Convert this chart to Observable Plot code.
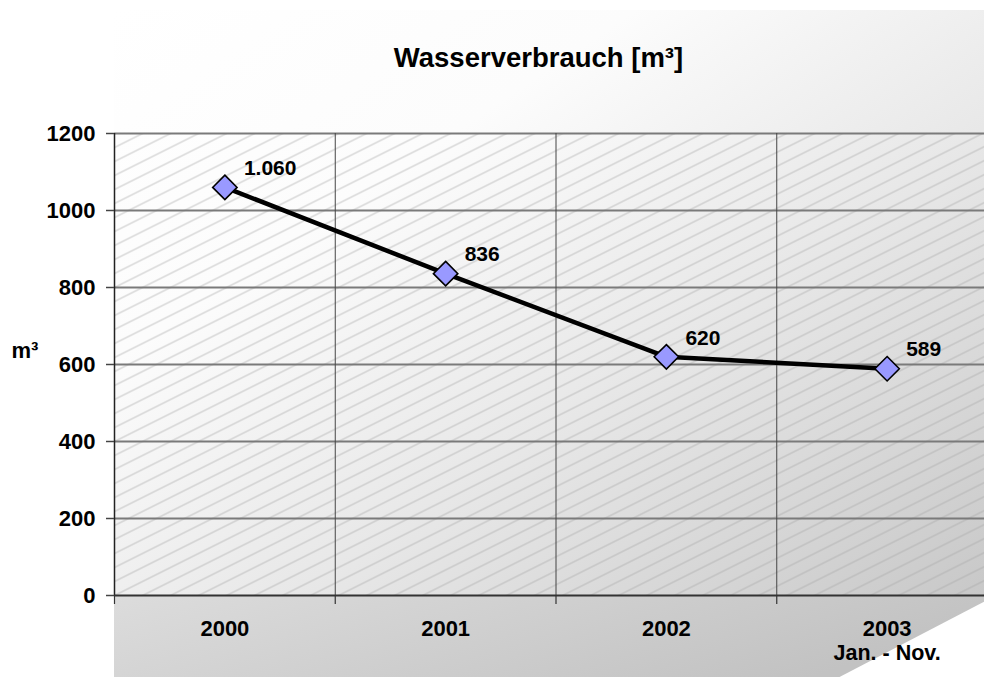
<!DOCTYPE html>
<html>
<head>
<meta charset="utf-8">
<script src="https://cdn.jsdelivr.net/npm/d3@7"></script>
<script src="https://cdn.jsdelivr.net/npm/@observablehq/plot@0.6"></script>
<style>
  html, body { margin: 0; padding: 0; background: #ffffff; overflow: hidden; }
  #chart { width: 984px; height: 677px; }
</style>
</head>
<body>
<div id="chart"></div>
<script>
// ---- data ----
const years = ["2000", "2001", "2002", "2003"];
const subLabels = ["", "", "", "Jan. - Nov."];
const values = [1060, 836, 620, 589];
const yTicks = [0, 200, 400, 600, 800, 1000, 1200];
const gridY = [200, 400, 600, 800, 1000, 1200];
const titleText = "Wasserverbrauch [m³]";
const yLabelText = "m³";

(function () {
const rows = years.map((y, i) => ({ i, year: y, value: values[i], sub: subLabels[i] }));
const bounds = d3.range(-0.5, years.length, 1);          // band edges -0.5 .. 2.5
const inner = bounds.slice(1);                              // 0.5, 1.5, 2.5
const fmtDE = d3.formatLocale({ decimal: ",", thousands: ".", grouping: [3], currency: ["", " €"] }).format(",d");

const FONT = "'Liberation Sans', Arial, Helvetica, sans-serif";

const chart = Plot.plot({
  width: 984,
  height: 677,
  marginLeft: 114,
  marginRight: -13,
  marginTop: 133,
  marginBottom: 82,
  x: { type: "linear", domain: [-0.5, years.length - 0.5] },
  y: { domain: [0, 1200] },
  style: { fontFamily: FONT, fontWeight: "bold", background: "transparent", color: "black" },
  marks: [
    Plot.frame({ fill: "url(#hatch)", stroke: null }),
    Plot.ruleY(gridY, { stroke: "#7a7a7a", strokeWidth: 2 }),
    Plot.ruleX(inner, { stroke: "#454545", strokeWidth: 1 }),
    Plot.ruleX([-0.5], { stroke: "#222", strokeWidth: 1.5 }),
    Plot.ruleY([0], { stroke: "#333", strokeWidth: 2 }),
    Plot.axisY({ ticks: yTicks, tickSize: 8, tickPadding: 11, tickFormat: "d", fontSize: 22, stroke: "#444", strokeWidth: 1.5, label: null }),
    Plot.axisX({ ticks: bounds, tickSize: 9, tickFormat: () => "", stroke: "#333", strokeWidth: 1.2, label: null }),
    Plot.axisX({ ticks: rows.map(d => d.i), tickSize: 0, tickPadding: 25, tickFormat: i => years[i], fontSize: 22, label: null }),
    Plot.text(rows, { x: "i", frameAnchor: "bottom", text: "sub", dy: 58, lineAnchor: "middle", fontSize: 21.5, fill: "black" }),
    Plot.line(rows, { x: "i", y: "value", stroke: "black", strokeWidth: 4.5, strokeLinejoin: "round" }),
    Plot.dot(rows, { x: "i", y: "value", symbol: "diamond2", r: 11, fill: "#9999ff", stroke: "black", strokeWidth: 1.6 }),
    Plot.text(rows, { x: "i", y: "value", text: d => fmtDE(d.value), textAnchor: "start", lineAnchor: "middle", dx: 19, dy: -19, fontSize: 21, fill: "black" }),
    Plot.text([titleText], { frameAnchor: "top-left", text: d => d, dx: 424, dy: -75, textAnchor: "middle", lineAnchor: "middle", fontSize: 27.5, fill: "black" }),
    Plot.text([yLabelText], { frameAnchor: "left", text: d => d, dx: -103, dy: -14, textAnchor: "start", lineAnchor: "middle", fontSize: 22, fill: "black" })
  ]
});

document.getElementById("chart").appendChild(chart);

// ---- decorative background: wall gradient, floor, hatch pattern ----
const svg = d3.select(chart);
const xs = chart.scale("x");
const ys = chart.scale("y");
const xLeft = xs.range[0], xRight = xs.range[1];
const yTop = ys.apply(1200), yBase = ys.apply(0);
const W = 984, H = 677;

const bg = svg.insert("g", ":first-child");
const defs = bg.append("defs");
const wg = defs.append("linearGradient").attr("id", "wallGrad")
  .attr("x1", 0).attr("y1", 0).attr("x2", 1).attr("y2", 1);
wg.append("stop").attr("offset", 0).attr("stop-color", "#ffffff");
wg.append("stop").attr("offset", 0.3).attr("stop-color", "#fcfcfc");
wg.append("stop").attr("offset", 0.6).attr("stop-color", "#e8e8e8");
wg.append("stop").attr("offset", 1).attr("stop-color", "#c8c8c8");
const fg = defs.append("linearGradient").attr("id", "floorGrad")
  .attr("x1", 0).attr("y1", 0).attr("x2", 1).attr("y2", 0.3);
fg.append("stop").attr("offset", 0).attr("stop-color", "#dcdcdc");
fg.append("stop").attr("offset", 1).attr("stop-color", "#c2c2c2");
const pat = defs.append("pattern").attr("id", "hatch").attr("patternUnits", "userSpaceOnUse")
  .attr("width", 28).attr("height", 14).attr("x", xLeft).attr("y", yTop);
pat.append("path").attr("d", "M0,14 L28,0 M-2,1 L2,-1 M26,15 L30,13")
  .attr("stroke", "#a4a4a4").attr("stroke-width", 0.7).attr("fill", "none");

bg.append("rect").attr("x", xLeft).attr("y", 10).attr("width", W - xLeft).attr("height", yBase - 10)
  .attr("fill", "url(#wallGrad)");
const slope = 144 / 75;
bg.append("polygon")
  .attr("points", [[xLeft, yBase], [xRight, yBase], [xRight - (H - yBase) * slope, H], [xLeft, H]].map(p => p.join(",")).join(" "))
  .attr("fill", "url(#floorGrad)");
})();
</script>
</body>
</html>
